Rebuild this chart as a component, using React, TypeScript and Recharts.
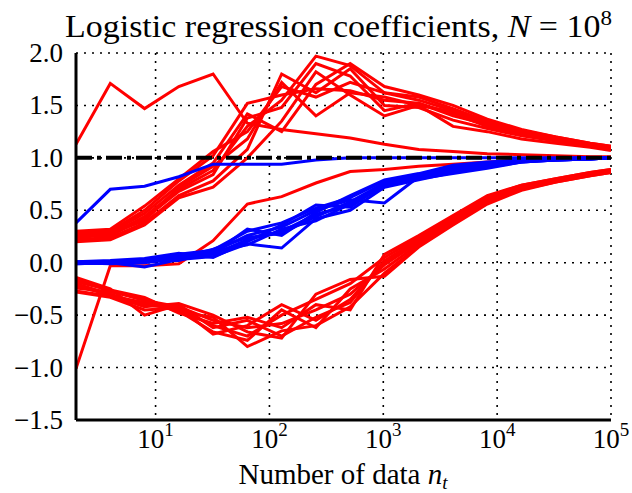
import React from 'react';
import {
  LineChart,
  Line,
  XAxis,
  YAxis,
  CartesianGrid,
  ReferenceLine
} from 'recharts';

const FONT = '"Liberation Serif", "Times New Roman", serif';

// number of data points n_t (powers of two, last one at the axis end)
const nt = [2, 4, 8, 16, 32, 64, 128, 256, 512, 1024, 2048, 4096, 8192, 16384, 32768, 65536, 100000];

// red runs that rise, peak around n_t ~ 300 and come back down towards 1
const redPeak = [
  [0.24, 0.27, 0.44, 0.70, 0.88, 1.30, 1.55, 1.97, 1.88, 1.62, 1.55, 1.45, 1.33, 1.25, 1.19, 1.13, 1.10],
  [0.28, 0.30, 0.50, 0.78, 1.02, 1.52, 1.60, 1.66, 1.64, 1.55, 1.52, 1.42, 1.30, 1.23, 1.17, 1.12, 1.09],
  [0.22, 0.24, 0.38, 0.64, 0.78, 1.08, 1.80, 1.62, 1.85, 1.50, 1.48, 1.36, 1.28, 1.21, 1.16, 1.11, 1.08],
  [0.26, 0.29, 0.47, 0.74, 0.95, 1.42, 1.25, 1.70, 1.90, 1.68, 1.60, 1.50, 1.37, 1.27, 1.20, 1.14, 1.11],
  [0.20, 0.22, 0.36, 0.62, 0.72, 1.00, 1.35, 1.82, 1.60, 1.40, 1.50, 1.30, 1.25, 1.18, 1.14, 1.10, 1.07],
  [0.30, 0.32, 0.54, 0.80, 1.06, 1.25, 1.68, 1.58, 1.72, 1.62, 1.58, 1.47, 1.35, 1.26, 1.20, 1.14, 1.11],
  [0.25, 0.26, 0.42, 0.68, 0.84, 1.38, 1.48, 1.90, 1.78, 1.45, 1.52, 1.40, 1.32, 1.24, 1.18, 1.12, 1.09],
  [0.23, 0.28, 0.40, 0.72, 0.92, 1.18, 1.72, 1.40, 1.62, 1.58, 1.50, 1.44, 1.30, 1.22, 1.17, 1.12, 1.08]
];

// red runs that dip below zero first, then climb towards 0.9
const redDip = [
  [-0.16, -0.27, -0.36, -0.42, -0.55, -0.62, -0.58, -0.45, -0.30, -0.02, 0.20, 0.40, 0.60, 0.72, 0.78, 0.85, 0.88],
  [-0.20, -0.30, -0.40, -0.44, -0.60, -0.70, -0.50, -0.35, -0.20, 0.05, 0.24, 0.44, 0.63, 0.74, 0.80, 0.86, 0.89],
  [-0.24, -0.28, -0.34, -0.47, -0.52, -0.80, -0.65, -0.60, -0.42, -0.10, 0.16, 0.37, 0.57, 0.70, 0.77, 0.83, 0.86],
  [-0.14, -0.25, -0.50, -0.40, -0.62, -0.55, -0.70, -0.52, -0.38, 0.02, 0.22, 0.42, 0.61, 0.73, 0.79, 0.85, 0.88],
  [-0.27, -0.32, -0.38, -0.46, -0.66, -0.74, -0.45, -0.62, -0.25, -0.06, 0.18, 0.39, 0.58, 0.71, 0.78, 0.84, 0.87],
  [-0.18, -0.26, -0.33, -0.48, -0.58, -0.52, -0.62, -0.40, -0.45, 0.08, 0.26, 0.45, 0.64, 0.74, 0.80, 0.86, 0.89],
  [-0.22, -0.31, -0.42, -0.39, -0.50, -0.66, -0.72, -0.30, -0.16, -0.13, 0.15, 0.36, 0.56, 0.69, 0.77, 0.83, 0.86],
  [-0.28, -0.33, -0.45, -0.43, -0.68, -0.60, -0.40, -0.55, -0.35, 0.00, 0.21, 0.41, 0.59, 0.72, 0.78, 0.84, 0.87]
];

// blue runs starting at zero and converging to 1
const blueRise = [
  [0.00, 0.00, 0.01, 0.05, 0.08, 0.22, 0.30, 0.46, 0.55, 0.74, 0.80, 0.88, 0.93, 0.97, 0.98, 0.99, 1.00],
  [0.01, 0.01, 0.03, 0.08, 0.12, 0.30, 0.38, 0.52, 0.62, 0.78, 0.84, 0.92, 0.95, 0.98, 0.99, 1.00, 1.00],
  [-0.01, 0.00, -0.04, 0.03, 0.06, 0.18, 0.14, 0.42, 0.50, 0.72, 0.79, 0.86, 0.91, 0.96, 0.98, 0.99, 1.00],
  [0.00, 0.01, 0.02, 0.07, 0.10, 0.26, 0.34, 0.50, 0.60, 0.57, 0.82, 0.90, 0.94, 0.97, 0.99, 1.00, 1.00],
  [0.00, -0.01, 0.00, 0.04, 0.13, 0.24, 0.28, 0.44, 0.58, 0.76, 0.81, 0.89, 0.92, 0.97, 0.98, 0.99, 1.00],
  [0.01, 0.02, 0.04, 0.09, 0.05, 0.20, 0.36, 0.55, 0.53, 0.75, 0.83, 0.87, 0.93, 0.96, 0.98, 0.99, 1.00],
  [0.00, 0.00, 0.01, 0.06, 0.09, 0.32, 0.26, 0.48, 0.64, 0.79, 0.85, 0.93, 0.96, 0.98, 0.99, 1.00, 1.00],
  [-0.01, 0.00, 0.02, 0.02, 0.11, 0.17, 0.32, 0.40, 0.56, 0.73, 0.80, 0.85, 0.90, 0.96, 0.98, 0.99, 1.00]
];

// single runs that behave differently
const redHigh = [1.13, 1.71, 1.47, 1.68, 1.80, 1.33, 1.27, 1.23, 1.19, 1.13, 1.08, 1.06, 1.04, 1.03, 1.02, 1.01, 1.01];
const redLow = [-1.01, -0.03, -0.03, -0.01, 0.21, 0.56, 0.63, 0.76, 0.87, 0.89, 0.92, 0.94, 0.96, 0.98, 0.99, 1.00, 1.00];
const blueFast = [0.38, 0.70, 0.73, 0.82, 0.94, 0.94, 0.94, 0.98, 1.00, 1.00, 1.00, 1.00, 1.00, 1.00, 1.00, 1.00, 1.00];

const xMajor = [10, 100, 1000, 10000, 100000];
const xMinor = [
  3, 4, 5, 6, 7, 8, 9,
  20, 30, 40, 50, 60, 70, 80, 90,
  200, 300, 400, 500, 600, 700, 800, 900,
  2000, 3000, 4000, 5000, 6000, 7000, 8000, 9000,
  20000, 30000, 40000, 50000, 60000, 70000, 80000, 90000
];
const yTicks = [-1.5, -1.0, -0.5, 0.0, 0.5, 1.0, 1.5, 2.0];

const rows = nt.map((n, i) => {
  const r: Record<string, number> = { n, rh: redHigh[i], rl: redLow[i], bf: blueFast[i] };
  redPeak.forEach((s, j) => (r[`rp${j}`] = s[i]));
  redDip.forEach((s, j) => (r[`rd${j}`] = s[i]));
  blueRise.forEach((s, j) => (r[`br${j}`] = s[i]));
  return r;
});

const RED = '#ff0000';
const BLUE = '#0000ff';

const NoLabel = () => <g />;

function XTick({ x, y, payload }: any) {
  const exp = Math.round(Math.log10(payload.value));
  return (
    <text x={x} y={y + 20} textAnchor="middle" fontFamily={FONT} fontSize={27} fill="#000">
      10<tspan dy={-12} fontSize={19}>{exp}</tspan>
    </text>
  );
}

function YTick({ x, y, payload }: any) {
  const v: number = payload.value;
  const s = (v < 0 ? '\u2212' : '') + Math.abs(v).toFixed(1);
  return (
    <text x={x} y={y + 9} textAnchor="end" fontFamily={FONT} fontSize={27} fill="#000">
      {s}
    </text>
  );
}

const xCommon = {
  dataKey: 'n',
  type: 'number' as const,
  scale: 'log' as const,
  domain: [2, 100000],
  allowDataOverflow: true,
  interval: 0 as const
};

const yCommon = {
  type: 'number' as const,
  domain: [-1.5, 2],
  allowDataOverflow: true,
  ticks: yTicks,
  interval: 0 as const
};

const lineProps = {
  xAxisId: 'x',
  yAxisId: 'y',
  type: 'linear' as const,
  dot: false,
  strokeWidth: 3,
  isAnimationActive: false
};

const frame = { stroke: '#000', strokeWidth: 3 };
const major = { stroke: '#000', strokeWidth: 2 };
const minor = { stroke: '#000', strokeWidth: 1.5 };

export default function App() {
  return (
    <div style={{ position: 'absolute', left: 0, top: 0, width: 632, height: 493, background: '#fff' }}>
      <LineChart width={632} height={493} data={rows} margin={{ top: 53, right: 21, bottom: 43, left: 0 }}>
        <CartesianGrid xAxisId="x" yAxisId="y" stroke="#000" strokeWidth={1.6} strokeDasharray="2 6" />

        <XAxis {...xCommon} xAxisId="x" orientation="bottom" height={30} ticks={xMajor}
          axisLine={frame} tickLine={false} tick={<XTick />} />
        <XAxis {...xCommon} xAxisId="xbMaj" orientation="bottom" mirror height={0} ticks={xMajor}
          axisLine={false} tickSize={8} tickLine={major} tick={<NoLabel />} />
        <XAxis {...xCommon} xAxisId="xbMin" orientation="bottom" mirror height={0} ticks={xMinor}
          axisLine={false} tickSize={4} tickLine={minor} tick={<NoLabel />} />
        <XAxis {...xCommon} xAxisId="xtMaj" orientation="top" mirror height={0} ticks={xMajor}
          axisLine={frame} tickSize={8} tickLine={major} tick={<NoLabel />} />
        <XAxis {...xCommon} xAxisId="xtMin" orientation="top" mirror height={0} ticks={xMinor}
          axisLine={false} tickSize={4} tickLine={minor} tick={<NoLabel />} />

        <YAxis {...yCommon} yAxisId="y" orientation="left" width={76}
          axisLine={frame} tickLine={false} tickMargin={7} tick={<YTick />} />
        <YAxis {...yCommon} yAxisId="yl" orientation="left" mirror width={0}
          axisLine={false} tickSize={8} tickLine={major} tick={<NoLabel />} />
        <YAxis {...yCommon} yAxisId="yr" orientation="right" mirror width={0}
          axisLine={frame} tickSize={8} tickLine={major} tick={<NoLabel />} />

        {redPeak.map((_, j) => (
          <Line key={`rp${j}`} {...lineProps} dataKey={`rp${j}`} stroke={RED} />
        ))}
        {redDip.map((_, j) => (
          <Line key={`rd${j}`} {...lineProps} dataKey={`rd${j}`} stroke={RED} />
        ))}
        <Line {...lineProps} dataKey="rh" stroke={RED} />
        <Line {...lineProps} dataKey="rl" stroke={RED} />
        {blueRise.map((_, j) => (
          <Line key={`br${j}`} {...lineProps} dataKey={`br${j}`} stroke={BLUE} />
        ))}
        <Line {...lineProps} dataKey="bf" stroke={BLUE} />

        <ReferenceLine xAxisId="x" yAxisId="y" y={1} stroke="#000" strokeWidth={4} strokeDasharray="16 5 4 5" />
      </LineChart>

      <svg width={632} height={493} style={{ position: 'absolute', left: 0, top: 0, pointerEvents: 'none' }}>
        <text x={65} y={37} fontFamily={FONT} fontSize={31} fill="#000" textLength={547} lengthAdjust="spacingAndGlyphs">
          Logistic regression coefficients, <tspan fontStyle="italic">N</tspan> = 10
          <tspan dy={-12} fontSize={21}>8</tspan>
        </text>
        <text x={343} y={484} textAnchor="middle" fontFamily={FONT} fontSize={29} fill="#000">
          Number of data <tspan fontStyle="italic">n</tspan>
          <tspan dy={5} fontSize={19} fontStyle="italic">t</tspan>
        </text>
      </svg>
    </div>
  );
}
